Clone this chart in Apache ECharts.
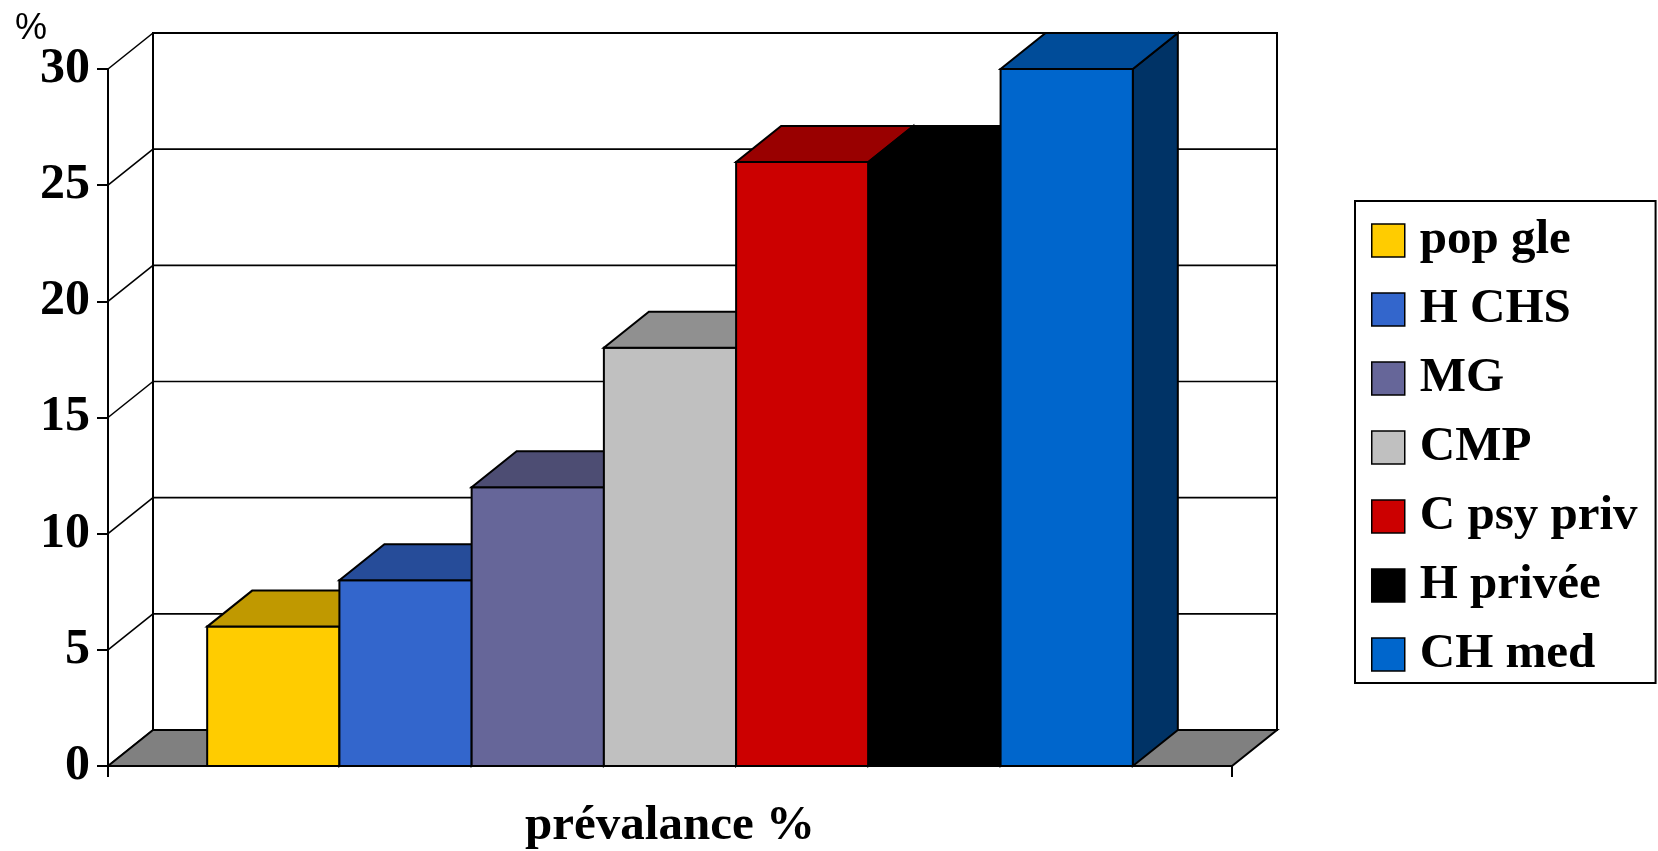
<!DOCTYPE html>
<html>
<head>
<meta charset="utf-8">
<script src="https://cdn.jsdelivr.net/npm/echarts@6/dist/echarts.min.js"></script>
<style>
html,body{margin:0;padding:0;background:#fff;}
#chart{width:1658px;height:851px;}
</style>
</head>
<body>
<div id="chart"></div>
<script>
const categories = ['prévalance %'];
const seriesNames = ['pop gle', 'H CHS', 'MG', 'CMP', 'C psy priv', 'H privée', 'CH med'];
const seriesValues = [6, 8, 12, 18, 26, 26, 30];
const yTicks = [0, 5, 10, 15, 20, 25, 30];
const unitLabel = '%';

const frontColors = ['#FFCC00', '#3366CC', '#666699', '#C0C0C0', '#CC0000', '#000000', '#0066CC'];
const topColors   = ['#C09900', '#264C99', '#4D4D73', '#909090', '#990000', '#000000', '#004C99'];
const sideColors  = ['#806600', '#1A3366', '#33334D', '#606060', '#660000', '#000000', '#003366'];

const DX = 45, DY = 36;
const SERIF = '"Liberation Serif", "Times New Roman", serif';

const chart = echarts.init(document.getElementById('chart'), null, {renderer: 'canvas'});

function frameRender(params, api) {
  const cs = params.coordSys;
  const x0 = cs.x, x1 = cs.x + cs.width;
  const yb = api.coord([0, 0])[1];
  const yt = api.coord([0, yTicks[yTicks.length - 1]])[1];
  const children = [];
  children.push({
    type: 'rect',
    shape: {x: x0 + DX, y: yt - DY, width: x1 - x0, height: yb - yt},
    style: {fill: '#ffffff', stroke: '#000', lineWidth: 2}
  });
  yTicks.forEach(function (v) {
    const y = api.coord([0, v])[1];
    children.push({
      type: 'line',
      shape: {x1: x0 + DX, y1: y - DY, x2: x1 + DX, y2: y - DY},
      style: {stroke: '#000', lineWidth: 1.6}
    });
    children.push({
      type: 'line',
      shape: {x1: x0, y1: y, x2: x0 + DX, y2: y - DY},
      style: {stroke: '#000', lineWidth: 1.6}
    });
  });
  children.push({
    type: 'polygon',
    shape: {points: [[x0, yb], [x1, yb], [x1 + DX, yb - DY], [x0 + DX, yb - DY]]},
    style: {fill: '#808080', stroke: '#000', lineWidth: 2}
  });
  return {type: 'group', children: children};
}

function makeBarRender(i) {
  return function (params, api) {
    const bandW = api.size([1, 0])[0];
    const center = api.coord([api.value(0), 0])[0];
    const n = seriesNames.length;
    const w = bandW / (n + 1.5);
    const xl = center - bandW / 2 + 0.75 * w + i * w;
    const xr = xl + w;
    const yTop = api.coord([api.value(0), api.value(1)])[1];
    const yBase = api.coord([api.value(0), 0])[1];
    const stroke = '#000';
    return {
      type: 'group',
      children: [
        {
          type: 'polygon',
          shape: {points: [[xr, yTop], [xr + DX, yTop - DY], [xr + DX, yBase - DY], [xr, yBase]]},
          style: {fill: sideColors[i], stroke: stroke, lineWidth: 2, lineJoin: 'miter'}
        },
        {
          type: 'rect',
          shape: {x: xl, y: yTop, width: w, height: yBase - yTop},
          style: {fill: frontColors[i], stroke: stroke, lineWidth: 2}
        },
        {
          type: 'polygon',
          shape: {points: [[xl, yTop], [xr, yTop], [xr + DX, yTop - DY], [xl + DX, yTop - DY]]},
          style: {fill: topColors[i], stroke: stroke, lineWidth: 2, lineJoin: 'miter'}
        }
      ]
    };
  };
}

const series = [{
  name: '__frame',
  type: 'custom',
  renderItem: frameRender,
  data: [[0, 0]],
  encode: {x: 0, y: 1},
  z: 1,
  silent: true
}];
seriesNames.forEach(function (name, i) {
  series.push({
    name: name,
    type: 'custom',
    renderItem: makeBarRender(i),
    data: [[0, seriesValues[i]]],
    encode: {x: 0, y: 1},
    itemStyle: {color: frontColors[i], borderColor: '#000', borderWidth: 1.5},
    z: 2 + i
  });
});

chart.setOption({
  animation: false,
  backgroundColor: '#ffffff',
  graphic: [{
    type: 'text',
    left: 15,
    top: 11,
    style: {
      text: unitLabel,
      fontFamily: '"Liberation Sans", Arial, sans-serif',
      fontSize: 36,
      fontWeight: 'normal',
      fill: '#000'
    }
  }],
  grid: {left: 108, top: 69, width: 1124, height: 700},
  legend: {
    data: seriesNames,
    orient: 'vertical',
    left: 1355,
    top: 201,
    padding: [15, 18, 4, 16],
    itemWidth: 33,
    itemHeight: 33,
    itemGap: 20,
    icon: 'rect',
    borderColor: '#000',
    borderWidth: 2,
    itemStyle: {borderColor: '#000', borderWidth: 1.5},
    textStyle: {fontFamily: SERIF, fontWeight: 'bold', fontSize: 49, color: '#000', lineHeight: 42, padding: [0, 0, 0, 10]}
  },
  xAxis: {
    type: 'category',
    data: categories,
    axisLine: {show: true, lineStyle: {color: '#000', width: 2}},
    axisTick: {show: true, length: 11, lineStyle: {color: '#000', width: 2}},
    axisLabel: {margin: 36, fontFamily: SERIF, fontWeight: 'bold', fontSize: 49, color: '#000'},
    splitLine: {show: false}
  },
  yAxis: {
    type: 'value',
    min: 0,
    max: 30,
    interval: 5,
    axisLine: {show: true, lineStyle: {color: '#000', width: 2}},
    axisTick: {show: true, length: 11, lineStyle: {color: '#000', width: 2}},
    axisLabel: {margin: 18, fontFamily: SERIF, fontWeight: 'bold', fontSize: 50, color: '#000'},
    splitLine: {show: false}
  },
  series: series
});
</script>
</body>
</html>
